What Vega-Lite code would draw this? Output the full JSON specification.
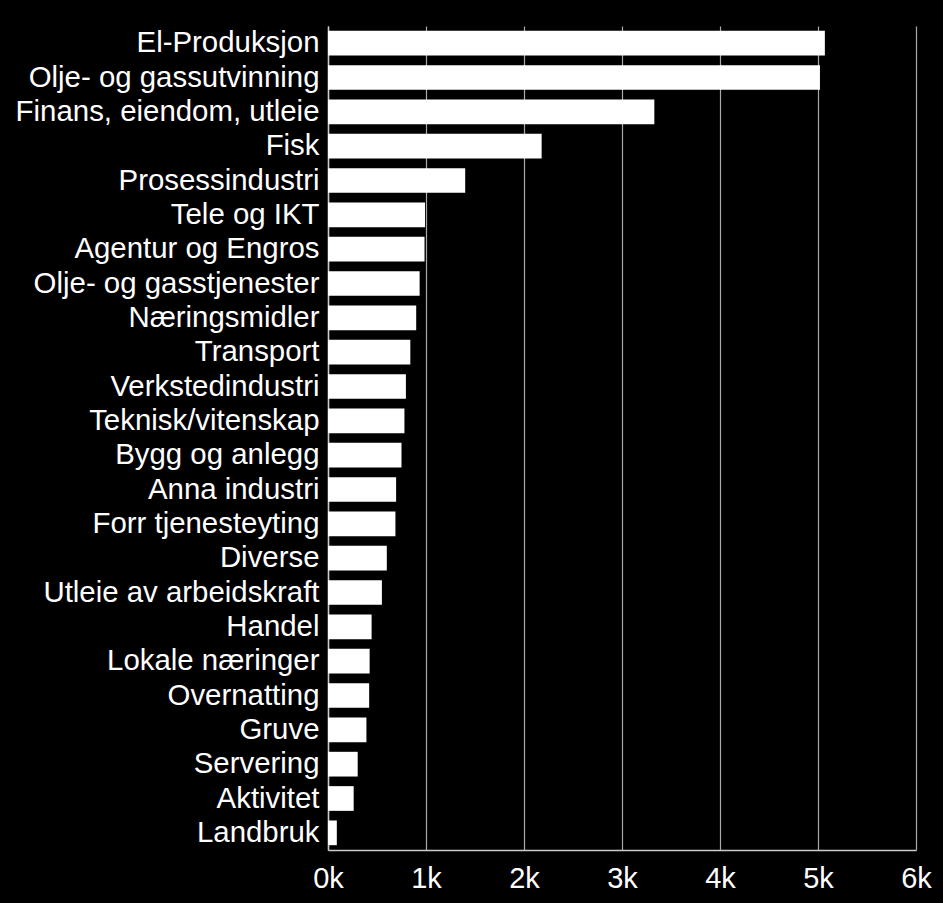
{
  "$schema": "https://vega.github.io/schema/vega-lite/v6.json",
  "width": 943,
  "height": 903,
  "autosize": {"type": "fit", "contains": "padding"},
  "padding": {"left": 15, "top": 26, "right": 11, "bottom": 10},
  "background": "#000000",
  "config": {
    "view": {"stroke": null},
    "font": "Liberation Sans"
  },
  "data": {
    "values": [
      {"naering": "El-Produksjon", "verdi": 5070},
      {"naering": "Olje- og gassutvinning", "verdi": 5020},
      {"naering": "Finans, eiendom, utleie", "verdi": 3330},
      {"naering": "Fisk", "verdi": 2180},
      {"naering": "Prosessindustri", "verdi": 1400},
      {"naering": "Tele og IKT", "verdi": 990},
      {"naering": "Agentur og Engros", "verdi": 985},
      {"naering": "Olje- og gasstjenester", "verdi": 935},
      {"naering": "Næringsmidler", "verdi": 900},
      {"naering": "Transport", "verdi": 840},
      {"naering": "Verkstedindustri", "verdi": 795},
      {"naering": "Teknisk/vitenskap", "verdi": 780},
      {"naering": "Bygg og anlegg", "verdi": 750},
      {"naering": "Anna industri", "verdi": 695},
      {"naering": "Forr tjenesteyting", "verdi": 688},
      {"naering": "Diverse", "verdi": 600},
      {"naering": "Utleie av arbeidskraft", "verdi": 550},
      {"naering": "Handel", "verdi": 445},
      {"naering": "Lokale næringer", "verdi": 425},
      {"naering": "Overnatting", "verdi": 420},
      {"naering": "Gruve", "verdi": 392},
      {"naering": "Servering", "verdi": 303},
      {"naering": "Aktivitet", "verdi": 262},
      {"naering": "Landbruk", "verdi": 90}
    ]
  },
  "mark": {"type": "bar", "color": "#ffffff"},
  "encoding": {
    "y": {
      "field": "naering",
      "type": "nominal",
      "sort": null,
      "scale": {"paddingInner": 0.28, "paddingOuter": 0.14},
      "axis": {
        "title": null,
        "ticks": false,
        "labelFontSize": 29.4,
        "labelColor": "#ffffff",
        "labelPadding": 9,
        "labelLimit": 400,
        "domain": true,
        "domainColor": "#cccccc",
        "domainWidth": 1.5,
        "grid": false
      }
    },
    "x": {
      "field": "verdi",
      "type": "quantitative",
      "scale": {"domain": [0, 6000], "nice": false},
      "axis": {
        "title": null,
        "values": [0, 1000, 2000, 3000, 4000, 5000, 6000],
        "labelExpr": "datum.value / 1000 + 'k'",
        "labelFlush": false,
        "ticks": false,
        "labelFontSize": 29,
        "labelColor": "#ffffff",
        "labelPadding": 14,
        "domainColor": "#cccccc",
        "domainWidth": 1.5,
        "grid": true,
        "gridColor": "#aaaaaa",
        "gridWidth": 1.2
      }
    }
  }
}
